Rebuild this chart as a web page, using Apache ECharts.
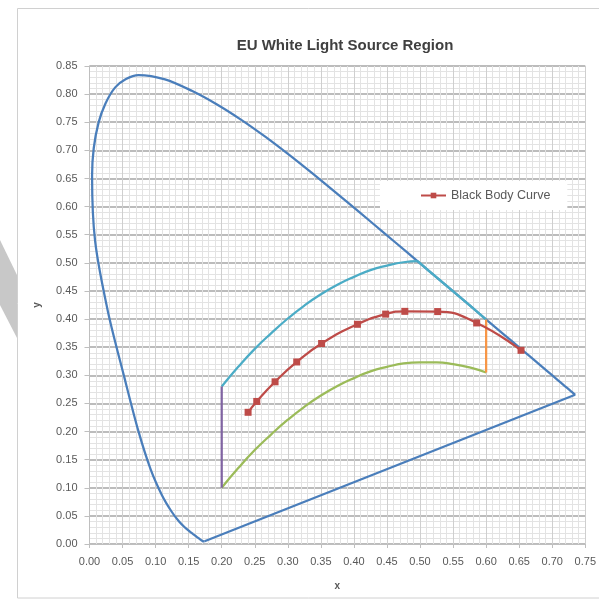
<!DOCTYPE html>
<html>
<head>
<meta charset="utf-8">
<script src="https://cdn.jsdelivr.net/npm/echarts@6/dist/echarts.min.js"></script>
<style>
html,body{margin:0;padding:0;background:#fff;}
#chart{width:599px;height:602px;}
</style>
</head>
<body>
<div id="chart"></div>
<script>
// ---- data ----
const titleText = 'EU White Light Source Region';
const xTickLabels = ['0.00','0.05','0.10','0.15','0.20','0.25','0.30','0.35','0.40','0.45','0.50','0.55','0.60','0.65','0.70','0.75'];
const yTickLabels = ['0.00','0.05','0.10','0.15','0.20','0.25','0.30','0.35','0.40','0.45','0.50','0.55','0.60','0.65','0.70','0.75','0.80','0.85'];

// spectral locus (blue)
const locusX = [0.1741,0.1740,0.1738,0.1736,0.1733,0.1730,0.1726,0.1721,0.1714,0.1703,0.1689,0.1669,0.1644,0.1611,0.1566,0.1510,0.1440,0.1355,0.1241,0.1096,0.0925,0.0740,0.0530,0.0280,0.0085,0.0039,0.0139,0.0389,0.0743,0.1142,0.1547,0.1929,0.2296,0.2658,0.3016,0.3373,0.3731,0.4087,0.4441,0.4788,0.5125,0.5448,0.5752,0.6029,0.6270,0.6482,0.6658,0.6915,0.7079,0.7190,0.7260,0.7300,0.7334,0.7347];
const locusY = [0.0050,0.0050,0.0049,0.0049,0.0048,0.0048,0.0048,0.0048,0.0051,0.0058,0.0069,0.0086,0.0109,0.0138,0.0177,0.0227,0.0297,0.0399,0.0578,0.0868,0.1327,0.2007,0.2950,0.4127,0.5384,0.6548,0.7502,0.8120,0.8338,0.8262,0.8059,0.7816,0.7543,0.7243,0.6923,0.6589,0.6245,0.5896,0.5547,0.5202,0.4866,0.4544,0.4242,0.3965,0.3725,0.3514,0.3340,0.3083,0.2920,0.2809,0.2740,0.2700,0.2666,0.2653];
// purple line closing the locus
const purpleLineX = [0.7347,0.1741];
const purpleLineY = [0.2653,0.0050];

// upper boundary (cyan)
const upperX = [0.200,0.225,0.250,0.275,0.300,0.325,0.350,0.375,0.400,0.425,0.450,0.475,0.4965];
const upperY = [0.280,0.315,0.347,0.375,0.401,0.424,0.444,0.461,0.475,0.487,0.495,0.501,0.503];
const upperEdgeX = [0.4965,0.5125,0.5448,0.5752,0.600];
const upperEdgeY = [0.503,0.4866,0.4544,0.4242,0.399];

// lower boundary (green)
const lowerX = [0.200,0.225,0.250,0.275,0.300,0.325,0.350,0.375,0.400,0.425,0.450,0.475,0.500,0.525,0.550,0.575,0.600];
const lowerY = [0.100,0.135,0.167,0.195,0.221,0.244,0.264,0.281,0.295,0.307,0.315,0.321,0.323,0.323,0.320,0.314,0.305];

// left edge (purple) and right edge (orange)
const leftEdgeX = [0.200,0.200];
const leftEdgeY = [0.100,0.280];
const rightEdgeX = [0.600,0.600];
const rightEdgeY = [0.305,0.399];

// black body curve (red)
const bbX = [0.2399,0.2530,0.2807,0.3135,0.3511,0.4053,0.4480,0.4770,0.5267,0.5857,0.6528];
const bbY = [0.2342,0.2535,0.2884,0.3237,0.3565,0.3907,0.4088,0.4137,0.4133,0.3931,0.3444];

const zip = (xs, ys) => xs.map((x, i) => [x, ys[i]]);

const labelColor = '#595959';
const blue = '#4a7ebb';
const chart = echarts.init(document.getElementById('chart'), null, {renderer: 'canvas'});
chart.setOption({
  animation: false,
  backgroundColor: '#fff',
  graphic: [
    {type:'polygon', shape:{points:[[0,240],[17,275],[17,338],[0,305]]}, style:{fill:'#c8c8c8'}, z:-10},
    {type:'rect', shape:{x:17.5, y:8.5, width:600, height:589.5}, style:{fill:'#fff', stroke:'#d0d0d0', lineWidth:1}, z:-9}
  ],
  title: {
    text: titleText,
    left: 340, top: 33, textAlign: 'center',
    textStyle: {fontFamily: 'Liberation Sans', fontSize: 15, fontWeight: 'bold', color: '#404040'}
  },
  legend: {
    data: ['Black Body Curve'],
    left: 380, top: 181,
    backgroundColor: '#fff',
    padding: [8, 17, 8, 40],
    itemWidth: 25, itemHeight: 7, itemGap: 3,
    textStyle: {fontFamily: 'Liberation Sans', fontSize: 12.5, color: labelColor}
  },
  grid: {left: 89.5, right: 9.5, top: 66, bottom: 58, containLabel: false},
  xAxis: {
    type: 'value', min: 0, max: 0.75, interval: 0.05,
    name: 'x', nameLocation: 'middle', nameGap: 37,
    nameTextStyle: {fontFamily: 'Liberation Sans', fontSize: 10, fontWeight: 'bold', color: labelColor},
    axisLine: {show: true, lineStyle: {color: '#bfbfbf', width: 1}},
    axisTick: {show: true, length: 4, lineStyle: {color: '#bfbfbf'}},
    axisLabel: {fontFamily: 'Liberation Sans', fontSize: 11, color: labelColor, margin: 12,
      formatter: v => xTickLabels[Math.round(v / 0.05)]},
    splitLine: {show: true, lineStyle: {color: '#cfcfcf', width: 1}},
    minorTick: {show: false, splitNumber: 5},
    minorSplitLine: {show: true, lineStyle: {color: '#e3e3e3', width: 1}}
  },
  yAxis: {
    type: 'value', min: 0, max: 0.85, interval: 0.05,
    name: 'y', nameLocation: 'middle', nameGap: 47, nameRotate: 90,
    nameTextStyle: {fontFamily: 'Liberation Sans', fontSize: 10, fontWeight: 'bold', color: labelColor},
    axisLine: {show: true, lineStyle: {color: '#bfbfbf', width: 1}},
    axisTick: {show: true, length: 5, lineStyle: {color: '#bfbfbf'}},
    axisLabel: {fontFamily: 'Liberation Sans', fontSize: 11, color: labelColor, margin: 12,
      formatter: v => yTickLabels[Math.round(v / 0.05)]},
    splitLine: {show: true, lineStyle: {color: '#a6a6a6', width: 1.5}},
    minorTick: {show: false, splitNumber: 5},
    minorSplitLine: {show: true, lineStyle: {color: '#e3e3e3', width: 1}}
  },
  series: [
    {name: 'Spectral Locus', type: 'line', data: zip(locusX, locusY), smooth: 0.3, showSymbol: false,
      lineStyle: {color: blue, width: 2.25}, itemStyle: {color: blue}, z: 2},
    {name: 'Purple Line', type: 'line', data: zip(purpleLineX, purpleLineY), smooth: false, showSymbol: false,
      lineStyle: {color: blue, width: 2.25}, itemStyle: {color: blue}, z: 2},
    {name: 'Upper', type: 'line', data: zip(upperX, upperY), smooth: true, showSymbol: false,
      lineStyle: {color: '#4bacc6', width: 2.25}, itemStyle: {color: '#4bacc6'}, z: 3},
    {name: 'UpperEdge', type: 'line', data: zip(upperEdgeX, upperEdgeY), smooth: false, showSymbol: false,
      lineStyle: {color: '#4bacc6', width: 2.25}, itemStyle: {color: '#4bacc6'}, z: 3},
    {name: 'Lower', type: 'line', data: zip(lowerX, lowerY), smooth: true, showSymbol: false,
      lineStyle: {color: '#9bbb59', width: 2.25}, itemStyle: {color: '#9bbb59'}, z: 3},
    {name: 'LeftEdge', type: 'line', data: zip(leftEdgeX, leftEdgeY), showSymbol: false,
      lineStyle: {color: '#8064a2', width: 2.25}, itemStyle: {color: '#8064a2'}, z: 3},
    {name: 'RightEdge', type: 'line', data: zip(rightEdgeX, rightEdgeY), showSymbol: false,
      lineStyle: {color: '#f79646', width: 2.25}, itemStyle: {color: '#f79646'}, z: 3},
    {name: 'Black Body Curve', type: 'line', data: zip(bbX, bbY), smooth: true,
      symbol: 'rect', symbolSize: 7, showSymbol: true,
      lineStyle: {color: '#be4b48', width: 2.25}, itemStyle: {color: '#be4b48'}, z: 4}
  ]
});
</script>
</body>
</html>
